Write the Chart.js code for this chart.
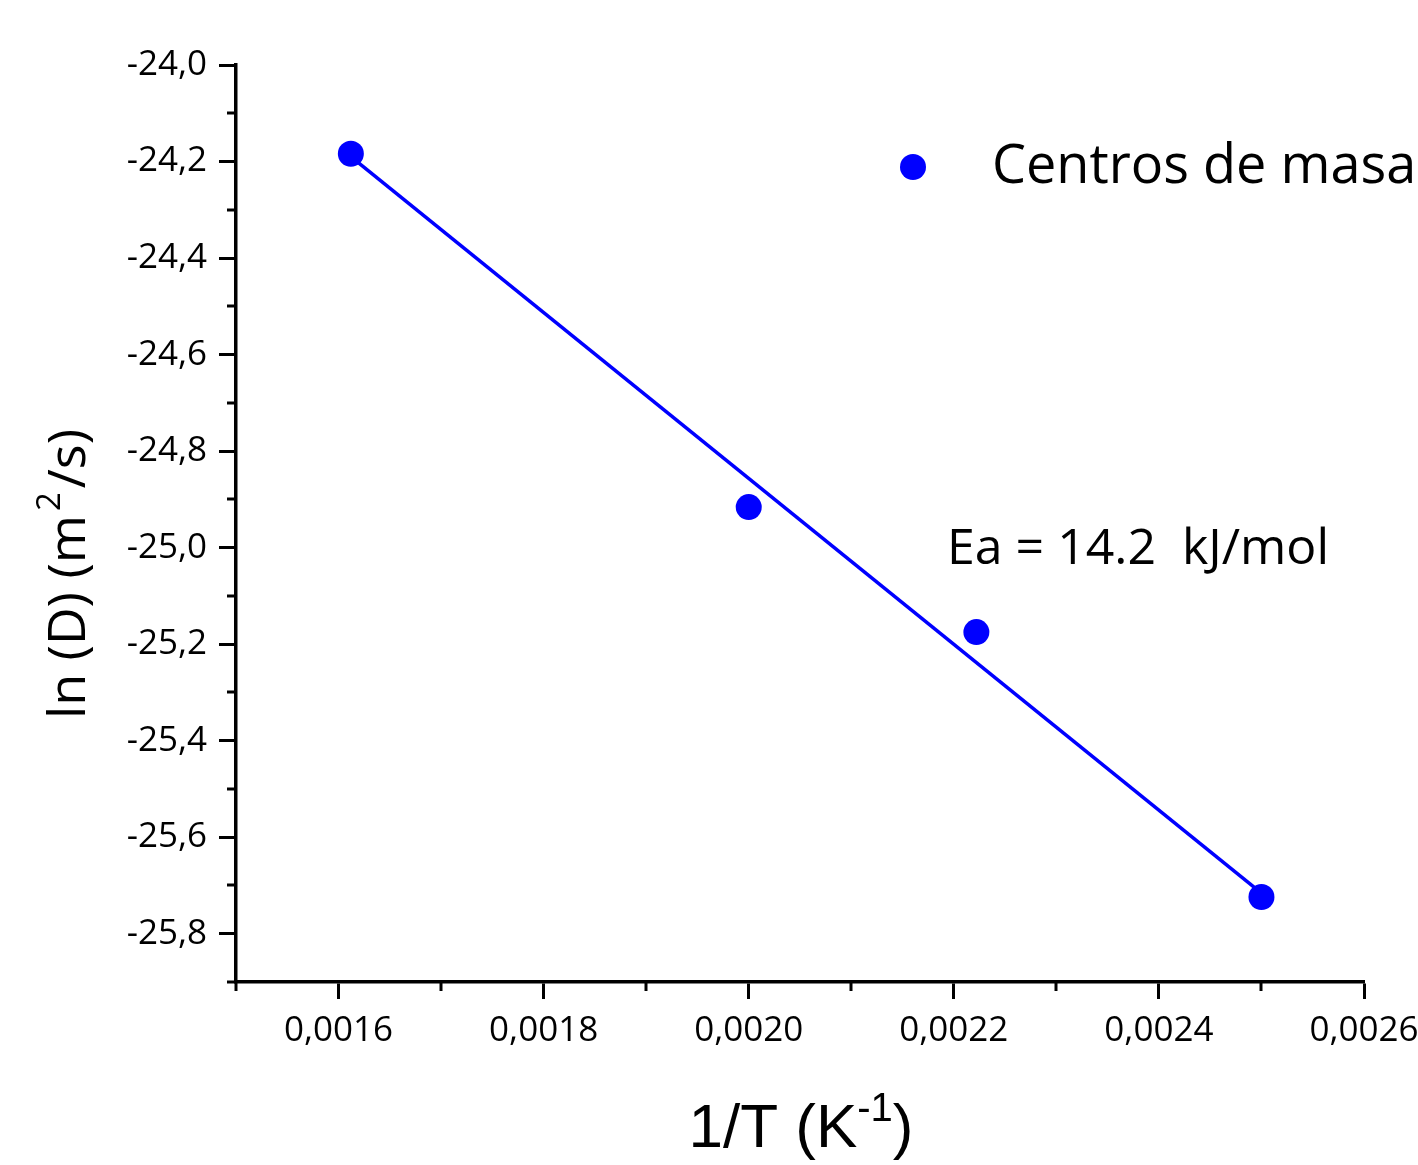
<!DOCTYPE html>
<html>
<head>
<meta charset="utf-8">
<script src="https://cdn.jsdelivr.net/npm/chart.js@4.4.1/dist/chart.umd.min.js"></script>
<style>
  html, body { margin: 0; padding: 0; background: #fff; }
  #wrap { width: 1418px; height: 1165px; }
</style>
</head>
<body>
<div id="wrap"><canvas id="arrhenius"></canvas></div>
<script>
// data
const invT = [0.001612, 0.0020, 0.002222, 0.0025];
const lnD = [-24.184, -24.916, -25.175, -25.724];
// fitted line, endpoints
const fitX = [0.001612, 0.0025];
const fitY = [-24.19, -25.716];

const xTicks = [0.0016, 0.0018, 0.0020, 0.0022, 0.0024, 0.0026];
const xMinor = [0.0015, 0.0017, 0.0019, 0.0021, 0.0023, 0.0025];
const yTicks = [-24.0, -24.2, -24.4, -24.6, -24.8, -25.0, -25.2, -25.4, -25.6, -25.8];
const yMinor = [-24.1, -24.3, -24.5, -24.7, -24.9, -25.1, -25.3, -25.5, -25.7, -25.9];

const seriesLabel = "Centros de masa";
const noteText = "Ea = 14.2  kJ/mol";

const blue = "#0000ff";
const sans = "'Open Sans', 'DejaVu Sans', sans-serif";

// minor ticks, axis titles, legend and note
const extras = {
  id: "extras",
  afterDraw(chart) {
    const c = chart.ctx;
    const xs = chart.scales.x, ys = chart.scales.y;
    const area = chart.chartArea;
    c.save();
    c.strokeStyle = "#000";
    c.lineWidth = 3;
    xMinor.forEach((v) => {
      const px = Math.round(xs.getPixelForValue(v));
      c.beginPath();
      c.moveTo(px, area.bottom);
      c.lineTo(px, area.bottom + 9);
      c.stroke();
    });
    yMinor.forEach((v) => {
      const py = Math.round(ys.getPixelForValue(v));
      c.beginPath();
      c.moveTo(area.left, py);
      c.lineTo(area.left - 9, py);
      c.stroke();
    });

    c.fillStyle = "#000";
    // x title with superscript
    const big = "62px 'Liberation Sans', Arial, sans-serif";
    const supFont = "40px 'Liberation Sans', Arial, sans-serif";
    c.textBaseline = "alphabetic";
    c.textAlign = "left";
    const p1 = "1/T (K", p2 = ")";
    c.font = big;
    const w1 = c.measureText(p1).width, w3 = c.measureText(p2).width;
    c.font = supFont;
    const w2 = c.measureText("-1").width;
    const x0 = 801 - (w1 + w2 + w3) / 2;
    const base = 1147;
    c.font = big;
    c.fillText(p1, x0, base);
    c.font = supFont;
    c.fillText("-1", x0 + w1, base - 26);
    c.font = big;
    c.fillText(p2, x0 + w1 + w2, base);

    // y title, rotated
    c.save();
    c.translate(85, 574);
    c.rotate(-Math.PI / 2);
    const yA = "ln (D) (m", yB = "/s)";
    c.font = "52px " + sans;
    const a = c.measureText(yA).width, b = c.measureText(yB).width;
    c.font = "33px " + sans;
    const s = c.measureText("2").width + 8;
    const sx = -(a + s + b) / 2;
    c.font = "52px " + sans;
    c.fillText(yA, sx, 0);
    c.font = "33px " + sans;
    c.fillText("2", sx + a + 4, -25);
    c.font = "52px " + sans;
    c.fillText(yB, sx + a + s, 0);
    c.restore();

    // legend
    c.fillStyle = blue;
    c.beginPath();
    c.arc(913, 167, 13, 0, Math.PI * 2);
    c.fill();
    c.fillStyle = "#000";
    c.font = "54px " + sans;
    c.textBaseline = "middle";
    c.fillText(seriesLabel, 992, 168);

    // activation energy note
    c.font = "50px " + sans;
    c.fillText(noteText, 947, 550);
    c.restore();
  },
};

const ctx = document.getElementById("arrhenius").getContext("2d");
new Chart(ctx, {
  type: "scatter",
  data: {
    datasets: [
      {
        label: seriesLabel,
        data: invT.map((x, i) => ({ x: x, y: lnD[i] })),
        backgroundColor: blue,
        borderColor: blue,
        pointRadius: 13,
        pointBorderWidth: 0,
        order: 1,
      },
      {
        label: "fit",
        data: fitX.map((x, i) => ({ x: x, y: fitY[i] })),
        showLine: true,
        borderColor: blue,
        borderWidth: 3.5,
        pointRadius: 0,
        order: 2,
      },
    ],
  },
  options: {
    responsive: true,
    maintainAspectRatio: false,
    animation: false,
    layout: { padding: { top: 65, right: 54, left: 0, bottom: 0 } },
    plugins: {
      legend: { display: false },
      tooltip: { enabled: false },
    },
    scales: {
      x: {
        type: "linear",
        min: 0.0015,
        max: 0.0026,
        afterBuildTicks: (scale) => {
          scale.ticks = xTicks.map((v) => ({ value: v }));
        },
        afterFit: (scale) => {
          scale.height = 183;
          scale.paddingLeft = 0;
          scale.paddingRight = 0;
        },
        border: { color: "#000", width: 3.5 },
        grid: {
          drawOnChartArea: false,
          drawTicks: true,
          tickLength: 17,
          tickWidth: 3,
          tickColor: "#000",
        },
        ticks: {
          color: "#000",
          padding: 11,
          maxRotation: 0,
          autoSkip: false,
          font: { family: "'Open Sans', sans-serif", size: 35 },
          callback: (v) => v.toFixed(4).replace(".", ","),
        },
      },
      y: {
        type: "linear",
        min: -25.9,
        max: -24.0,
        afterBuildTicks: (scale) => {
          scale.ticks = yTicks.map((v) => ({ value: v }));
        },
        afterFit: (scale) => {
          scale.width = 236;
          scale.paddingTop = 0;
          scale.paddingBottom = 0;
        },
        border: { color: "#000", width: 3.5 },
        grid: {
          drawOnChartArea: false,
          drawTicks: true,
          tickLength: 17,
          tickWidth: 3,
          tickColor: "#000",
        },
        ticks: {
          color: "#000",
          padding: 12,
          autoSkip: false,
          font: { family: "'Open Sans', sans-serif", size: 35 },
          callback: (v) => v.toFixed(1).replace(".", ","),
        },
      },
    },
  },
  plugins: [extras],
});
</script>
</body>
</html>
